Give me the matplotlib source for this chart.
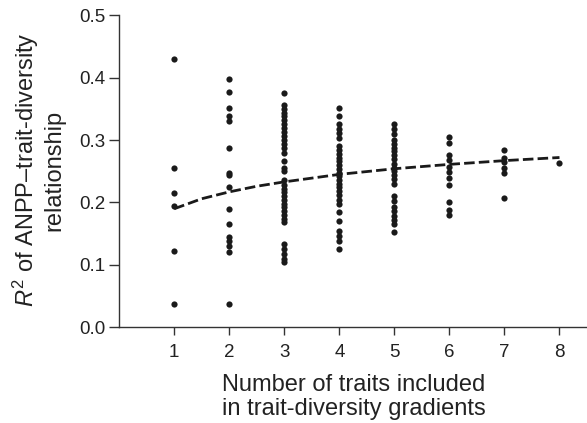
import numpy as np
from matplotlib import pyplot as plt

plt.rcParams['font.family'] = ['Liberation Sans', 'DejaVu Sans']
plt.rcParams['mathtext.fontset'] = 'custom'
plt.rcParams['mathtext.rm'] = 'Liberation Sans'
plt.rcParams['mathtext.it'] = 'Liberation Sans:italic'

# R2 values per number of traits
r2_1 = [0.429, 0.256, 0.215, 0.195, 0.122, 0.038]
r2_2 = [0.398, 0.377, 0.351, 0.339, 0.331, 0.287, 0.248, 0.244, 0.225, 0.189,
        0.165, 0.144, 0.138, 0.130, 0.121, 0.038]
r2_3 = [0.376, 0.356, 0.350, 0.344, 0.338, 0.332, 0.326, 0.320, 0.313, 0.306,
        0.300, 0.294, 0.288, 0.280, 0.266, 0.256, 0.250, 0.236, 0.228, 0.222,
        0.216, 0.210, 0.204, 0.198, 0.192, 0.186, 0.180, 0.174, 0.168, 0.133,
        0.125, 0.118, 0.110, 0.105]
r2_4 = [0.352, 0.338, 0.325, 0.318, 0.311, 0.304, 0.290, 0.284, 0.278, 0.272,
        0.266, 0.260, 0.254, 0.248, 0.242, 0.236, 0.230, 0.224, 0.218, 0.212,
        0.204, 0.197, 0.184, 0.170, 0.154, 0.146, 0.138, 0.125]
r2_5 = [0.326, 0.318, 0.310, 0.300, 0.294, 0.288, 0.282, 0.276, 0.270, 0.262,
        0.256, 0.250, 0.244, 0.238, 0.230, 0.210, 0.202, 0.193, 0.186, 0.179,
        0.172, 0.166, 0.152]
r2_6 = [0.305, 0.295, 0.276, 0.268, 0.257, 0.249, 0.239, 0.228, 0.201, 0.188, 0.180]
r2_7 = [0.284, 0.271, 0.265, 0.255, 0.247, 0.207]
r2_8 = [0.263]
columns = [r2_1, r2_2, r2_3, r2_4, r2_5, r2_6, r2_7, r2_8]

# fitted trend
fit_x = [1, 1.5, 2, 2.5, 3, 4, 5, 6, 7, 8]
fit_y = [0.190, 0.206, 0.217, 0.226, 0.233, 0.245, 0.254, 0.261, 0.267, 0.272]

fig = plt.figure(figsize=(5.87, 4.23), dpi=100)
ax = fig.add_axes([0.203, 0.2258, 0.797, 0.7387])

for i, col in enumerate(columns):
    ax.scatter([i + 1] * len(col), col, s=20, color='#1a1a1a', linewidths=0, zorder=3)

ax.plot(fit_x, fit_y, color='#1a1a1a', lw=2, dashes=(3.8, 1.5), zorder=4)

ax.set_xlim(0, 8.5)
ax.set_ylim(0, 0.5)
ax.set_xticks(range(1, 9))
ax.set_yticks([0.0, 0.1, 0.2, 0.3, 0.4, 0.5])
ax.set_yticklabels(['0.0', '0.1', '0.2', '0.3', '0.4', '0.5'])
ax.spines['top'].set_visible(False)
ax.spines['right'].set_visible(False)
for s in ['left', 'bottom']:
    ax.spines[s].set_linewidth(1.0)
    ax.spines[s].set_color('#333333')
ax.tick_params(direction='out', width=1.0, colors='#333333',
               labelsize=13.5, labelcolor='#222222')
ax.tick_params(axis='x', length=6, pad=6)
ax.tick_params(axis='y', length=7, pad=3)

fig.text(0.065, 0.598, '$R^{\\mathrm{2}}$ of ANPP\u2013trait-diversity\nrelationship',
         rotation=90, ha='center', va='center', multialignment='center',
         fontsize=17, color='#222222', linespacing=1.1)
fig.text(0.603, 0.062, 'Number of traits included\nin trait-diversity gradients',
         ha='center', va='center', multialignment='center',
         fontsize=17, color='#222222', linespacing=1.1)

fig.savefig('out.png', dpi=100)
